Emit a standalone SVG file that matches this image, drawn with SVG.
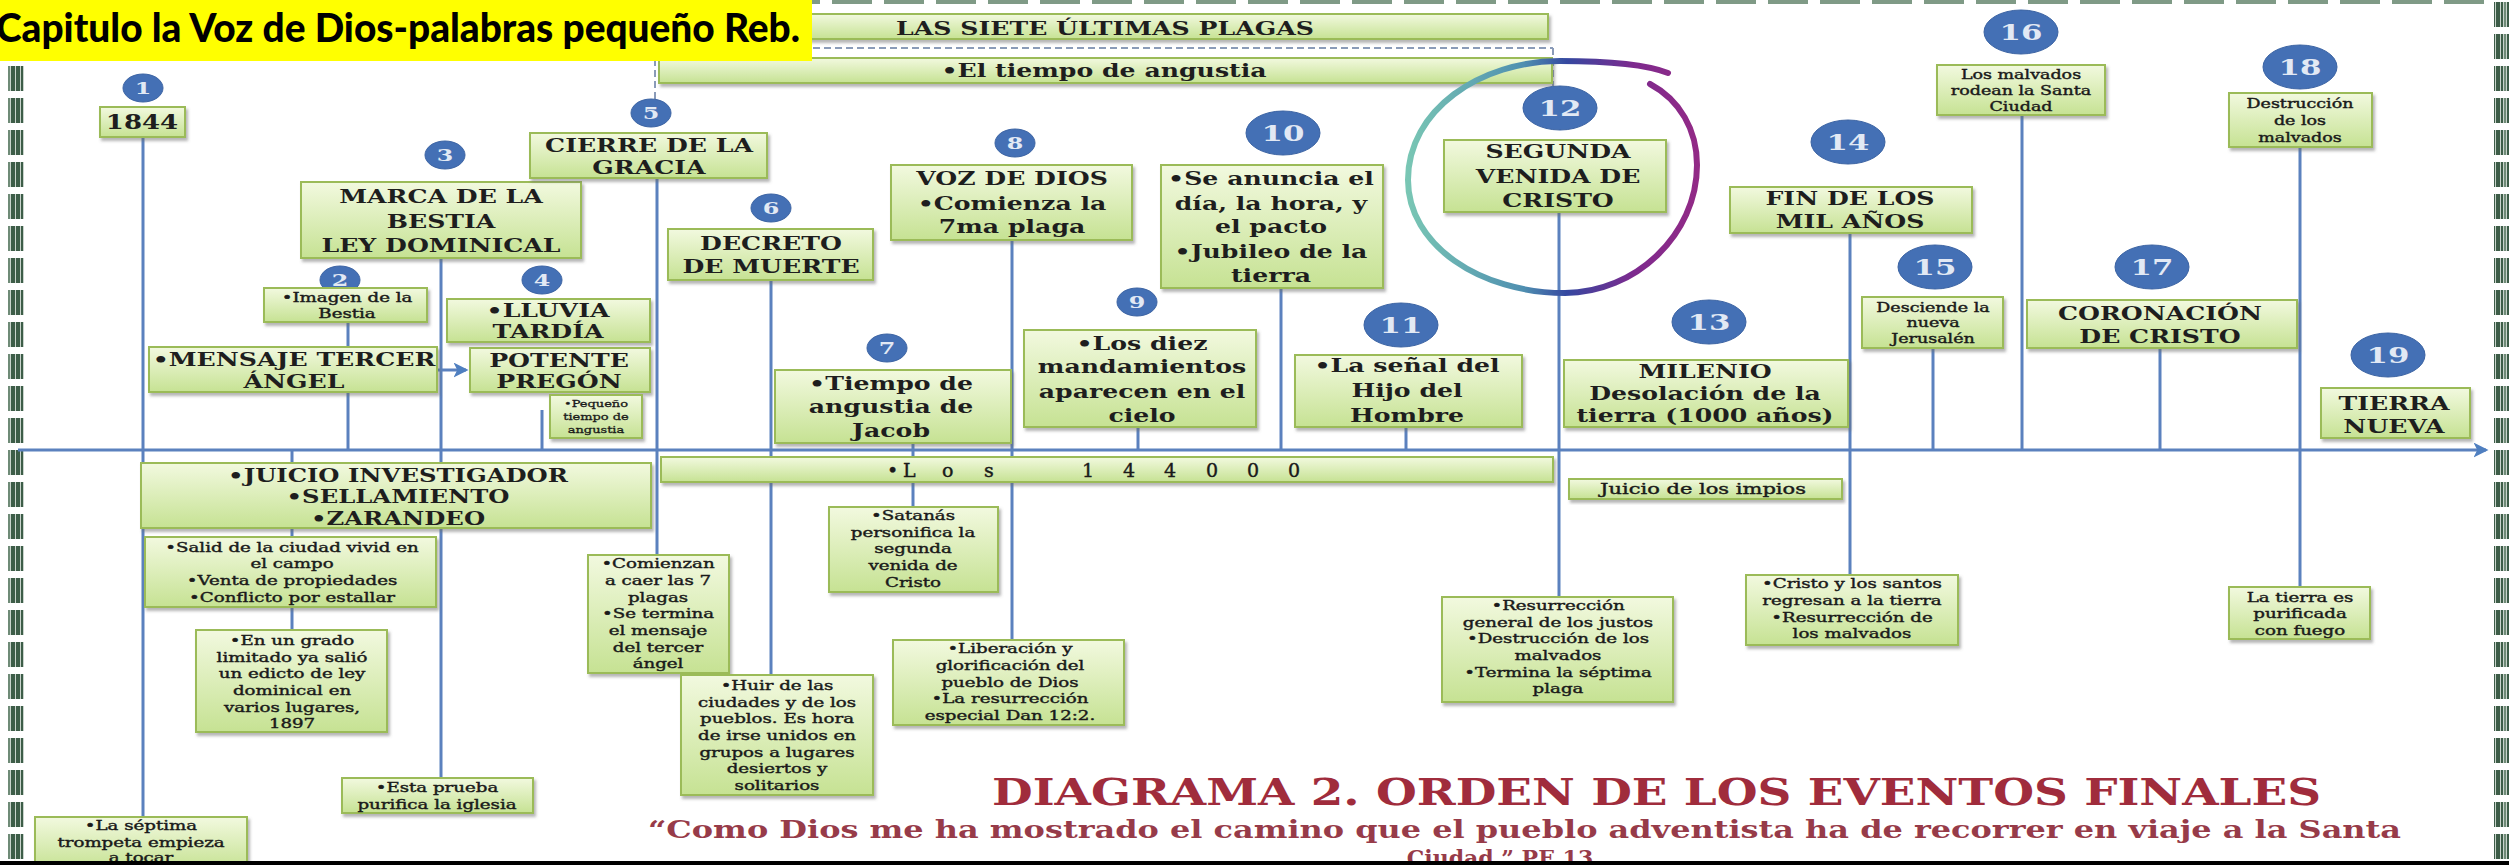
<svg xmlns="http://www.w3.org/2000/svg" width="2509" height="865" viewBox="0 0 2509 865">
<defs>
<style>
.box{fill:url(#gb);stroke:#9bbb59;stroke-width:2;filter:url(#sh)}
.num{fill:#4470b5;stroke:#3b63a3;stroke-width:1}
.nt{font-family:"DejaVu Serif","Liberation Serif",serif;font-weight:bold;fill:#e2e9f4;text-anchor:middle}
.ns{font-size:17px}
.nb{font-size:22px}
.h{font-family:"DejaVu Serif","Liberation Serif",serif;font-weight:bold;font-size:18px;fill:#1e1e1e;text-anchor:middle}
.s{font-family:"DejaVu Serif","Liberation Serif",serif;font-size:13px;fill:#1a1a1a;stroke:#1a1a1a;stroke-width:0.4;text-anchor:middle}
.ln{stroke:#5b81be;stroke-width:3;fill:none}
.dash{stroke:#8a9bb8;stroke-width:2;stroke-dasharray:7 4;fill:none}
</style>
<linearGradient id="gb" x1="0" y1="0" x2="0" y2="1">
<stop offset="0" stop-color="#f2f9df"/>
<stop offset="1" stop-color="#c6e293"/>
</linearGradient>
<linearGradient id="gc" x1="0" y1="0" x2="1" y2="0">
<stop offset="0" stop-color="#79c6b4"/>
<stop offset="0.4" stop-color="#4f8fb0"/>
<stop offset="0.55" stop-color="#3548a0"/>
<stop offset="0.78" stop-color="#7d2a8e"/>
<stop offset="1" stop-color="#922a86"/>
</linearGradient>
<filter id="sh" x="-10%" y="-10%" width="125%" height="140%">
<feDropShadow dx="2" dy="3" stdDeviation="1.5" flood-color="#6b6b6b" flood-opacity="0.5"/>
</filter>
<pattern id="bord" x="0" y="66" width="16" height="32" patternUnits="userSpaceOnUse">
<rect x="0" y="0" width="16" height="25" fill="#c9d4cc"/>
<rect x="0" y="0" width="4" height="25" fill="#3d5d48"/>
<rect x="5" y="0" width="2" height="25" fill="#3d5d48"/>
<rect x="8" y="0" width="2" height="25" fill="#6f8b77"/>
<rect x="11" y="0" width="4" height="25" fill="#3d5d48"/>
</pattern>
<pattern id="topb" x="0" y="0" width="52" height="5" patternUnits="userSpaceOnUse">
<rect x="0" y="0" width="40" height="4" fill="#7f9a86"/>
</pattern>
<marker id="arr" viewBox="0 0 12 12" refX="10" refY="6" markerWidth="5" markerHeight="5" orient="auto" markerUnits="strokeWidth">
<path d="M0,0 L12,6 L0,12 L3,6 z" fill="#4f7fc0"/>
</marker>
</defs>

<rect x="0" y="0" width="2509" height="865" fill="#ffffff"/>

<g id="borders">
<rect x="812" y="0" width="1682" height="4" fill="url(#topb)"/>
<rect x="8" y="66" width="16" height="795" fill="url(#bord)"/>
<rect x="2494" y="0" width="15" height="861" fill="url(#bord)"/>
</g>

<g id="connectors">
<line class="ln" x1="18" y1="450" x2="2486" y2="450" marker-end="url(#arr)"/>
<line class="ln" x1="143" y1="137" x2="143" y2="817"/>
<line class="ln" x1="348" y1="322" x2="348" y2="450"/>
<line class="ln" x1="441" y1="258" x2="441" y2="778"/>
<line class="ln" x1="292" y1="450" x2="292" y2="630"/>
<line class="ln" x1="542" y1="410" x2="542" y2="450"/>
<line class="ln" x1="657" y1="178" x2="657" y2="555"/>
<line class="ln" x1="771" y1="280" x2="771" y2="675"/>
<line class="ln" x1="913" y1="443" x2="913" y2="507"/>
<line class="ln" x1="1012" y1="240" x2="1012" y2="640"/>
<line class="ln" x1="1138" y1="427" x2="1138" y2="450"/>
<line class="ln" x1="1281" y1="288" x2="1281" y2="450"/>
<line class="ln" x1="1406" y1="427" x2="1406" y2="450"/>
<line class="ln" x1="1559" y1="212" x2="1559" y2="597"/>
<line class="ln" x1="1850" y1="233" x2="1850" y2="575"/>
<line class="ln" x1="1933" y1="348" x2="1933" y2="450"/>
<line class="ln" x1="2022" y1="115" x2="2022" y2="450"/>
<line class="ln" x1="2160" y1="348" x2="2160" y2="450"/>
<line class="ln" x1="2300" y1="147" x2="2300" y2="587"/>
<line class="ln" x1="438" y1="370" x2="466" y2="370" marker-end="url(#arr)"/>
<line class="dash" x1="659" y1="48" x2="1553" y2="48"/>
<line class="dash" x1="655" y1="48" x2="655" y2="100"/>
<line class="dash" x1="1553" y1="48" x2="1553" y2="86"/>
</g>

<g id="plagas">
<rect class="box" x="659" y="14" width="889" height="25"/>
<text class="h" transform="translate(1105 0) scale(1.4 1)"><tspan x="0" y="35">LAS SIETE ÚLTIMAS PLAGAS</tspan></text>
</g>
<g id="tiempo-angustia">
<rect class="box" x="659" y="58" width="893" height="25"/>
<text class="h" transform="translate(1104 0) scale(1.4 1)"><tspan x="0" y="77">•El tiempo de angustia</tspan></text>
</g>
<g id="los-144000">
<rect class="box" x="661" y="457" width="892" height="25"/>
<text style="font-family:'DejaVu Serif','Liberation Serif',serif;font-size:19px;fill:#1a1a1a;stroke:#1a1a1a;stroke-width:0.4" x="887 903 942 984 1082 1123 1164 1206 1247 1288" y="477">•Los144000</text>
</g>

<g id="n1">
<ellipse class="num" cx="143" cy="88" rx="20" ry="14"/>
<text class="nt ns" transform="translate(143 0) scale(1.4 1)"><tspan x="0" y="94">1</tspan></text>
<rect class="box" x="100" y="107" width="85" height="30"/>
<text class="h" style="font-size:20px" transform="translate(142 0) scale(1.3 1)"><tspan x="0" y="129">1844</tspan></text>
</g>

<g id="n2">
<ellipse class="num" cx="340" cy="280" rx="20" ry="14"/>
<text class="nt ns" transform="translate(340 0) scale(1.4 1)"><tspan x="0" y="286">2</tspan></text>
<rect class="box" x="264" y="288" width="163" height="34"/>
<text class="s" transform="translate(347 0) scale(1.4 1)"><tspan x="0" y="302">•Imagen de la</tspan><tspan x="0" y="318">Bestia</tspan></text>
</g>

<g id="mensaje">
<rect class="box" x="149" y="347" width="288" height="45"/>
<text class="h" transform="translate(294 0) scale(1.4 1)"><tspan x="0" y="366">•MENSAJE TERCER</tspan><tspan x="0" y="388">ÁNGEL</tspan></text>
</g>

<g id="n3">
<ellipse class="num" cx="445" cy="155" rx="20" ry="14"/>
<text class="nt ns" transform="translate(445 0) scale(1.4 1)"><tspan x="0" y="161">3</tspan></text>
<rect class="box" x="301" y="182" width="280" height="76"/>
<text class="h" transform="translate(441 0) scale(1.4 1)"><tspan x="0" y="203">MARCA DE LA</tspan><tspan x="0" y="228">BESTIA</tspan><tspan x="0" y="252">LEY DOMINICAL</tspan></text>
</g>

<g id="n4">
<ellipse class="num" cx="542" cy="280" rx="20" ry="14"/>
<text class="nt ns" transform="translate(542 0) scale(1.4 1)"><tspan x="0" y="286">4</tspan></text>
<rect class="box" x="447" y="299" width="203" height="43"/>
<text class="h" transform="translate(548 0) scale(1.4 1)"><tspan x="0" y="317">•LLUVIA</tspan><tspan x="0" y="338">TARDÍA</tspan></text>
</g>
<g id="potente">
<rect class="box" x="470" y="348" width="180" height="44"/>
<text class="h" transform="translate(559 0) scale(1.4 1)"><tspan x="0" y="367">POTENTE</tspan><tspan x="0" y="388">PREGÓN</tspan></text>
</g>
<g id="pequeno">
<rect class="box" x="550" y="395" width="92" height="43"/>
<text class="s" style="font-size:10px;stroke-width:0.3" transform="translate(596 0) scale(1.3 1)"><tspan x="0" y="407">•Pequeño</tspan><tspan x="0" y="420">tiempo de</tspan><tspan x="0" y="433">angustia</tspan></text>
</g>

<g id="n5">
<ellipse class="num" cx="651" cy="113" rx="20" ry="14"/>
<text class="nt ns" transform="translate(651 0) scale(1.4 1)"><tspan x="0" y="119">5</tspan></text>
<rect class="box" x="530" y="133" width="237" height="45"/>
<text class="h" transform="translate(649 0) scale(1.4 1)"><tspan x="0" y="152">CIERRE DE LA</tspan><tspan x="0" y="174">GRACIA</tspan></text>
</g>

<g id="n6">
<ellipse class="num" cx="771" cy="208" rx="20" ry="14"/>
<text class="nt ns" transform="translate(771 0) scale(1.4 1)"><tspan x="0" y="214">6</tspan></text>
<rect class="box" x="668" y="229" width="205" height="51"/>
<text class="h" transform="translate(771 0) scale(1.4 1)"><tspan x="0" y="250">DECRETO</tspan><tspan x="0" y="273">DE MUERTE</tspan></text>
</g>

<g id="n7">
<ellipse class="num" cx="887" cy="348" rx="20" ry="14"/>
<text class="nt ns" transform="translate(887 0) scale(1.4 1)"><tspan x="0" y="354">7</tspan></text>
<rect class="box" x="775" y="370" width="236" height="73"/>
<text class="h" transform="translate(891 0) scale(1.4 1)"><tspan x="0" y="390">•Tiempo de</tspan><tspan x="0" y="413">angustia de</tspan><tspan x="0" y="437">Jacob</tspan></text>
</g>

<g id="n8">
<ellipse class="num" cx="1015" cy="143" rx="20" ry="14"/>
<text class="nt ns" transform="translate(1015 0) scale(1.4 1)"><tspan x="0" y="149">8</tspan></text>
<rect class="box" x="891" y="165" width="241" height="75"/>
<text class="h" transform="translate(1012 0) scale(1.4 1)"><tspan x="0" y="185">VOZ DE DIOS</tspan><tspan x="0" y="210">•Comienza la</tspan><tspan x="0" y="233">7ma plaga</tspan></text>
</g>

<g id="n9">
<ellipse class="num" cx="1137" cy="302" rx="20" ry="14"/>
<text class="nt ns" transform="translate(1137 0) scale(1.4 1)"><tspan x="0" y="308">9</tspan></text>
<rect class="box" x="1024" y="330" width="232" height="97"/>
<text class="h" transform="translate(1142 0) scale(1.4 1)"><tspan x="0" y="350">•Los diez</tspan><tspan x="0" y="373">mandamientos</tspan><tspan x="0" y="398">aparecen en el</tspan><tspan x="0" y="422">cielo</tspan></text>
</g>

<g id="n10">
<ellipse class="num" cx="1283" cy="133" rx="37" ry="22"/>
<text class="nt nb" transform="translate(1283 0) scale(1.4 1)"><tspan x="0" y="141">10</tspan></text>
<rect class="box" x="1161" y="165" width="222" height="123"/>
<text class="h" transform="translate(1271 0) scale(1.4 1)"><tspan x="0" y="185">•Se anuncia el</tspan><tspan x="0" y="210">día, la hora, y</tspan><tspan x="0" y="233">el pacto</tspan><tspan x="0" y="258">•Jubileo de la</tspan><tspan x="0" y="282">tierra</tspan></text>
</g>

<g id="n11">
<ellipse class="num" cx="1401" cy="325" rx="37" ry="22"/>
<text class="nt nb" transform="translate(1401 0) scale(1.4 1)"><tspan x="0" y="333">11</tspan></text>
<rect class="box" x="1295" y="355" width="227" height="72"/>
<text class="h" transform="translate(1407 0) scale(1.4 1)"><tspan x="0" y="372">•La señal del</tspan><tspan x="0" y="397">Hijo del</tspan><tspan x="0" y="422">Hombre</tspan></text>
</g>

<g id="n12">
<ellipse class="num" cx="1560" cy="108" rx="37" ry="22"/>
<text class="nt nb" transform="translate(1560 0) scale(1.4 1)"><tspan x="0" y="116">12</tspan></text>
<rect class="box" x="1444" y="140" width="222" height="72"/>
<text class="h" transform="translate(1558 0) scale(1.4 1)"><tspan x="0" y="158">SEGUNDA</tspan><tspan x="0" y="183">VENIDA DE</tspan><tspan x="0" y="207">CRISTO</tspan></text>
<path d="M1650,84 C1680,100 1697,130 1697,165 C1697,235 1635,293 1565,293 C1480,293 1408,245 1408,180 C1408,110 1480,61 1560,61 C1610,61 1645,64 1668,73" fill="none" stroke="url(#gc)" stroke-width="6" stroke-linecap="round"/>
</g>

<g id="n13">
<ellipse class="num" cx="1709" cy="322" rx="37" ry="22"/>
<text class="nt nb" transform="translate(1709 0) scale(1.4 1)"><tspan x="0" y="330">13</tspan></text>
<rect class="box" x="1564" y="360" width="284" height="67"/>
<text class="h" transform="translate(1705 0) scale(1.4 1)"><tspan x="0" y="378">MILENIO</tspan><tspan x="0" y="400">Desolación de la</tspan><tspan x="0" y="422">tierra (1000 años)</tspan></text>
</g>
<g id="juicio-impios">
<rect class="box" x="1569" y="479" width="273" height="20"/>
<text class="s" style="font-size:15px" transform="translate(1703 0) scale(1.4 1)"><tspan x="0" y="494">Juicio de los impios</tspan></text>
</g>

<g id="n14">
<ellipse class="num" cx="1848" cy="142" rx="37" ry="22"/>
<text class="nt nb" transform="translate(1848 0) scale(1.4 1)"><tspan x="0" y="150">14</tspan></text>
<rect class="box" x="1730" y="187" width="242" height="46"/>
<text class="h" transform="translate(1850 0) scale(1.4 1)"><tspan x="0" y="205">FIN DE LOS</tspan><tspan x="0" y="228">MIL AÑOS</tspan></text>
</g>

<g id="n15">
<ellipse class="num" cx="1935" cy="267" rx="37" ry="22"/>
<text class="nt nb" transform="translate(1935 0) scale(1.4 1)"><tspan x="0" y="275">15</tspan></text>
<rect class="box" x="1862" y="297" width="141" height="51"/>
<text class="s" style="font-size:12.5px" transform="translate(1933 0) scale(1.4 1)"><tspan x="0" y="312">Desciende la</tspan><tspan x="0" y="327">nueva</tspan><tspan x="0" y="343">Jerusalén</tspan></text>
</g>

<g id="n16">
<ellipse class="num" cx="2021" cy="32" rx="37" ry="22"/>
<text class="nt nb" transform="translate(2021 0) scale(1.4 1)"><tspan x="0" y="40">16</tspan></text>
<rect class="box" x="1937" y="65" width="168" height="50"/>
<text class="s" style="font-size:12.5px" transform="translate(2021 0) scale(1.4 1)"><tspan x="0" y="79">Los malvados</tspan><tspan x="0" y="95">rodean la Santa</tspan><tspan x="0" y="111">Ciudad</tspan></text>
</g>

<g id="n17">
<ellipse class="num" cx="2152" cy="267" rx="37" ry="22"/>
<text class="nt nb" transform="translate(2152 0) scale(1.4 1)"><tspan x="0" y="275">17</tspan></text>
<rect class="box" x="2027" y="300" width="270" height="48"/>
<text class="h" transform="translate(2160 0) scale(1.4 1)"><tspan x="0" y="320">CORONACIÓN</tspan><tspan x="0" y="343">DE CRISTO</tspan></text>
</g>

<g id="n18">
<ellipse class="num" cx="2300" cy="67" rx="37" ry="22"/>
<text class="nt nb" transform="translate(2300 0) scale(1.4 1)"><tspan x="0" y="75">18</tspan></text>
<rect class="box" x="2229" y="93" width="143" height="54"/>
<text class="s" style="font-size:12.5px" transform="translate(2300 0) scale(1.4 1)"><tspan x="0" y="108">Destrucción</tspan><tspan x="0" y="125">de los</tspan><tspan x="0" y="142">malvados</tspan></text>
</g>
<g id="purificada">
<rect class="box" x="2229" y="587" width="141" height="52"/>
<text class="s" transform="translate(2300 0) scale(1.4 1)"><tspan x="0" y="602">La tierra es</tspan><tspan x="0" y="618">purificada</tspan><tspan x="0" y="635">con fuego</tspan></text>
</g>

<g id="n19">
<ellipse class="num" cx="2388" cy="355" rx="37" ry="22"/>
<text class="nt nb" transform="translate(2388 0) scale(1.4 1)"><tspan x="0" y="363">19</tspan></text>
<rect class="box" x="2321" y="388" width="149" height="50"/>
<text class="h" transform="translate(2394 0) scale(1.4 1)"><tspan x="0" y="410">TIERRA</tspan><tspan x="0" y="433">NUEVA</tspan></text>
</g>

<g id="juicio">
<rect class="box" x="141" y="463" width="510" height="65"/>
<text class="h" transform="translate(398 0) scale(1.35 1)"><tspan x="0" y="482">•JUICIO INVESTIGADOR</tspan><tspan x="0" y="503">•SELLAMIENTO</tspan><tspan x="0" y="525">•ZARANDEO</tspan></text>
</g>
<g id="salid">
<rect class="box" x="145" y="537" width="291" height="70"/>
<text class="s" transform="translate(292 0) scale(1.4 1)"><tspan x="0" y="552">•Salid de la ciudad vivid en</tspan><tspan x="0" y="568">el campo</tspan><tspan x="0" y="585">•Venta de propiedades</tspan><tspan x="0" y="602">•Conflicto por estallar</tspan></text>
</g>
<g id="grado">
<rect class="box" x="196" y="630" width="191" height="102"/>
<text class="s" transform="translate(292 0) scale(1.4 1)"><tspan x="0" y="645">•En un grado</tspan><tspan x="0" y="662">limitado ya salió</tspan><tspan x="0" y="678">un edicto de ley</tspan><tspan x="0" y="695">dominical en</tspan><tspan x="0" y="712">varios lugares,</tspan><tspan x="0" y="728">1897</tspan></text>
</g>
<g id="prueba">
<rect class="box" x="342" y="778" width="191" height="35"/>
<text class="s" transform="translate(437 0) scale(1.4 1)"><tspan x="0" y="792">•Esta prueba</tspan><tspan x="0" y="809">purifica la iglesia</tspan></text>
</g>
<g id="septima">
<rect class="box" x="35" y="817" width="212" height="52"/>
<text class="s" transform="translate(141 0) scale(1.4 1)"><tspan x="0" y="830">•La séptima</tspan><tspan x="0" y="847">trompeta  empieza</tspan><tspan x="0" y="862">a tocar</tspan></text>
</g>
<g id="comienzan">
<rect class="box" x="588" y="555" width="141" height="118"/>
<text class="s" transform="translate(658 0) scale(1.4 1)"><tspan x="0" y="568">•Comienzan</tspan><tspan x="0" y="585">a caer las 7</tspan><tspan x="0" y="602">plagas</tspan><tspan x="0" y="618">•Se termina</tspan><tspan x="0" y="635">el mensaje</tspan><tspan x="0" y="652">del tercer</tspan><tspan x="0" y="668">ángel</tspan></text>
</g>
<g id="huir">
<rect class="box" x="681" y="675" width="192" height="120"/>
<text class="s" transform="translate(777 0) scale(1.4 1)"><tspan x="0" y="690">•Huir de las</tspan><tspan x="0" y="707">ciudades y de los</tspan><tspan x="0" y="723">pueblos. Es hora</tspan><tspan x="0" y="740">de irse unidos en</tspan><tspan x="0" y="757">grupos a lugares</tspan><tspan x="0" y="773">desiertos y</tspan><tspan x="0" y="790">solitarios</tspan></text>
</g>
<g id="satanas">
<rect class="box" x="829" y="507" width="169" height="85"/>
<text class="s" transform="translate(913 0) scale(1.4 1)"><tspan x="0" y="520">•Satanás</tspan><tspan x="0" y="537">personifica la</tspan><tspan x="0" y="553">segunda</tspan><tspan x="0" y="570">venida de</tspan><tspan x="0" y="587">Cristo</tspan></text>
</g>
<g id="liberacion">
<rect class="box" x="893" y="640" width="231" height="85"/>
<text class="s" transform="translate(1010 0) scale(1.4 1)"><tspan x="0" y="653">•Liberación y</tspan><tspan x="0" y="670">glorificación del</tspan><tspan x="0" y="687">pueblo de Dios</tspan><tspan x="0" y="703">•La resurrección</tspan><tspan x="0" y="720">especial  Dan 12:2.</tspan></text>
</g>
<g id="resurreccion">
<rect class="box" x="1442" y="597" width="231" height="105"/>
<text class="s" transform="translate(1558 0) scale(1.4 1)"><tspan x="0" y="610">•Resurrección</tspan><tspan x="0" y="627">general de los justos</tspan><tspan x="0" y="643">•Destrucción de los</tspan><tspan x="0" y="660">malvados</tspan><tspan x="0" y="677">•Termina la séptima</tspan><tspan x="0" y="693">plaga</tspan></text>
</g>
<g id="santos">
<rect class="box" x="1746" y="575" width="212" height="70"/>
<text class="s" transform="translate(1852 0) scale(1.4 1)"><tspan x="0" y="588">•Cristo y los santos</tspan><tspan x="0" y="605">regresan a la tierra</tspan><tspan x="0" y="622">•Resurrección de</tspan><tspan x="0" y="638">los malvados</tspan></text>
</g>

<g id="caption">
<text x="992" y="805" textLength="1329" lengthAdjust="spacingAndGlyphs" style="font-family:'DejaVu Serif','Liberation Serif',serif;font-weight:bold;font-size:37px;fill:#a02c3c">DIAGRAMA 2. ORDEN DE LOS EVENTOS FINALES</text>
<text x="648" y="838" textLength="1753" lengthAdjust="spacingAndGlyphs" style="font-family:'DejaVu Serif','Liberation Serif',serif;font-weight:bold;font-size:25px;fill:#973b49">“Como Dios me ha mostrado el camino que el pueblo adventista ha de recorrer en viaje a la Santa</text>
<text x="1500" y="866" text-anchor="middle" style="font-family:'DejaVu Serif','Liberation Serif',serif;font-weight:bold;font-size:22px;fill:#973b49">Ciudad.” PE 13</text>
</g>

<g id="title">
<rect x="0" y="0" width="812" height="61" fill="#ffff00"/>
<text x="-4" y="42" textLength="804" lengthAdjust="spacingAndGlyphs" style="font-family:Lato,'Liberation Sans',sans-serif;font-weight:900;font-size:39px;fill:#000">Capitulo la Voz de Dios-palabras pequeño Reb.</text>
</g>
<rect id="bottom-bar" x="0" y="861" width="2509" height="4" fill="#000"/>
</svg>
